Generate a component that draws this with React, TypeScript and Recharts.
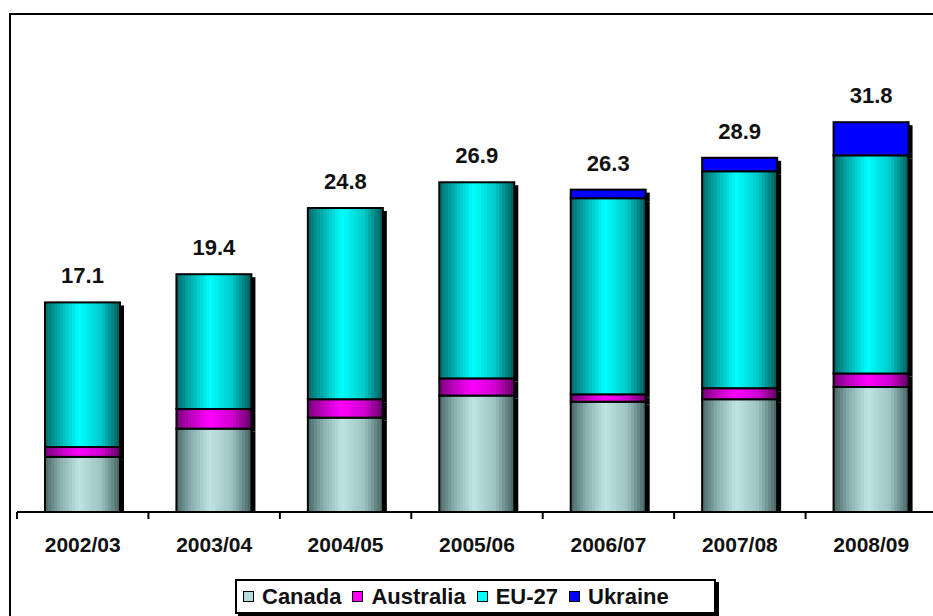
import React from "react"
import { BarChart, Bar, XAxis, YAxis, LabelList } from "recharts"

const seasons = ["2002/03", "2003/04", "2004/05", "2005/06", "2006/07", "2007/08", "2008/09"]
const canada = [4.5, 6.8, 7.7, 9.5, 9.0, 9.2, 10.2]
const australia = [0.8, 1.6, 1.5, 1.4, 0.6, 0.9, 1.1]
const eu27 = [11.8, 11.0, 15.6, 16.0, 16.0, 17.7, 17.8]
const ukraine = [0, 0, 0, 0, 0.7, 1.1, 2.7]
const totals = [17.1, 19.4, 24.8, 26.9, 26.3, 28.9, 31.8]

const data = seasons.map((season, i) => ({
  season,
  canada: canada[i],
  australia: australia[i],
  eu27: eu27[i],
  ukraine: ukraine[i],
  total: totals[i],
}))

const legendItems = [
  { name: "Canada", color: "#b4dcdc" },
  { name: "Australia", color: "#ff00ff" },
  { name: "EU-27", color: "#00ffff" },
  { name: "Ukraine", color: "#0000ff" },
]

// shading key colours across the bar: left edge, quarter, centre, three-quarter, right edge
const shadeStops = [0, 0.2, 0.45, 0.75, 1]
const shades: Record<string, string[]> = {
  canada: ["#4a6868", "#88aeae", "#bfe3e3", "#9dc2c2", "#456161"],
  australia: ["#780078", "#c000c0", "#ff00ff", "#d000d0", "#640064"],
  eu27: ["#006a6a", "#00b0b0", "#00ffff", "#00c8c8", "#005858"],
  ukraine: ["#0000ff", "#0000ff", "#0000ff", "#0000ff", "#0000ff"],
}
const STRIPS = 25

const hex = (c: string) => [1, 3, 5].map((k) => parseInt(c.slice(k, k + 2), 16))
const shadeAt = (keys: string[], t: number) => {
  let k = 0
  while (k < shadeStops.length - 2 && t > shadeStops[k + 1]) k++
  const f = (t - shadeStops[k]) / (shadeStops[k + 1] - shadeStops[k])
  const a = hex(keys[k])
  const b = hex(keys[k + 1])
  const rgb = a.map((v, j) => Math.round(v + (b[j] - v) * f))
  return `rgb(${rgb.join(",")})`
}

const FONT = "'Liberation Sans', Arial, sans-serif"
const CHART_W = 950
const CHART_H = 616
const MARGIN = { top: 83, right: 13, bottom: 0, left: 17 }
const BAND = (CHART_W - MARGIN.left - MARGIN.right) / seasons.length

const Segment = (props: any) => {
  const { x, y, width, height, series, bottom } = props
  if (!height || height <= 0) return null
  const keys = shades[series]
  const w = width / STRIPS
  return (
    <g>
      <rect x={x + width} y={y + 3} width={4} height={bottom ? height - 3 : height} fill="#000" />
      {Array.from({ length: STRIPS }, (_, i) => (
        <rect
          key={i}
          x={x + i * w}
          y={y}
          width={w + 0.6}
          height={height}
          fill={shadeAt(keys, (i + 0.5) / STRIPS)}
          shapeRendering="crispEdges"
        />
      ))}
      <rect x={x} y={y} width={width} height={height} fill="none" stroke="#000" strokeWidth={2} />
    </g>
  )
}

const CategoryTick = ({ x, y, payload }: any) => (
  <g>
    <line x1={x - BAND / 2} x2={x - BAND / 2} y1={y} y2={y + 7} stroke="#000" strokeWidth={2} />
    <text
      x={x}
      y={y + 40}
      textAnchor="middle"
      fontFamily={FONT}
      fontWeight="bold"
      fontSize={21}
      fill="#111"
    >
      {payload.value}
    </text>
  </g>
)

const TotalLabel = (props: any) => {
  const { x, y, width, index } = props
  return (
    <text
      x={x + width / 2}
      y={y - 19}
      textAnchor="middle"
      fontFamily={FONT}
      fontWeight="bold"
      fontSize={22}
      fill="#111"
    >
      {totals[index].toFixed(1)}
    </text>
  )
}

export default function App() {
  return (
    <div
      style={{
        position: "fixed",
        left: 0,
        top: 0,
        width: 933,
        height: 616,
        overflow: "hidden",
        background: "#fff",
      }}
    >
      <div
        style={{
          position: "absolute",
          left: 9,
          top: 13,
          width: 960,
          height: 640,
          borderTop: "2px solid #000",
          borderLeft: "2px solid #000",
        }}
      />
      <div style={{ position: "absolute", left: 0, top: 0 }}>
        <BarChart width={CHART_W} height={CHART_H} data={data} margin={MARGIN} barSize={75}>
          <XAxis
            dataKey="season"
            height={104}
            axisLine={{ stroke: "#000", strokeWidth: 2 }}
            tickLine={false}
            tickSize={0}
            tickMargin={0}
            interval={0}
            tick={<CategoryTick />}
          />
          <YAxis hide domain={[0, 35]} />
          <Bar
            dataKey="canada"
            stackId="a"
            fill="#b4dcdc"
            isAnimationActive={false}
            shape={(p: any) => <Segment {...p} series="canada" bottom />}
          />
          <Bar
            dataKey="australia"
            stackId="a"
            fill="#ff00ff"
            isAnimationActive={false}
            shape={(p: any) => <Segment {...p} series="australia" />}
          />
          <Bar
            dataKey="eu27"
            stackId="a"
            fill="#00ffff"
            isAnimationActive={false}
            shape={(p: any) => <Segment {...p} series="eu27" />}
          />
          <Bar
            dataKey="ukraine"
            stackId="a"
            fill="#0000ff"
            isAnimationActive={false}
            shape={(p: any) => <Segment {...p} series="ukraine" />}
          >
            <LabelList dataKey="total" content={<TotalLabel />} />
          </Bar>
        </BarChart>
      </div>
      <div
        style={{
          position: "absolute",
          left: 235,
          top: 579,
          width: 471,
          height: 31,
          border: "2px solid #000",
          boxShadow: "3px 3px 0 #000",
          background: "#fff",
          display: "flex",
          alignItems: "center",
          paddingLeft: 6,
          fontFamily: FONT,
          fontWeight: "bold",
          fontSize: 22,
          color: "#111",
        }}
      >
        {legendItems.map((item) => (
          <div key={item.name} style={{ display: "flex", alignItems: "center", marginRight: 11 }}>
            <span
              style={{
                display: "inline-block",
                width: 9,
                height: 9,
                border: "1.5px solid #000",
                background: item.color,
                marginRight: 8,
              }}
            />
            <span>{item.name}</span>
          </div>
        ))}
      </div>
    </div>
  )
}
